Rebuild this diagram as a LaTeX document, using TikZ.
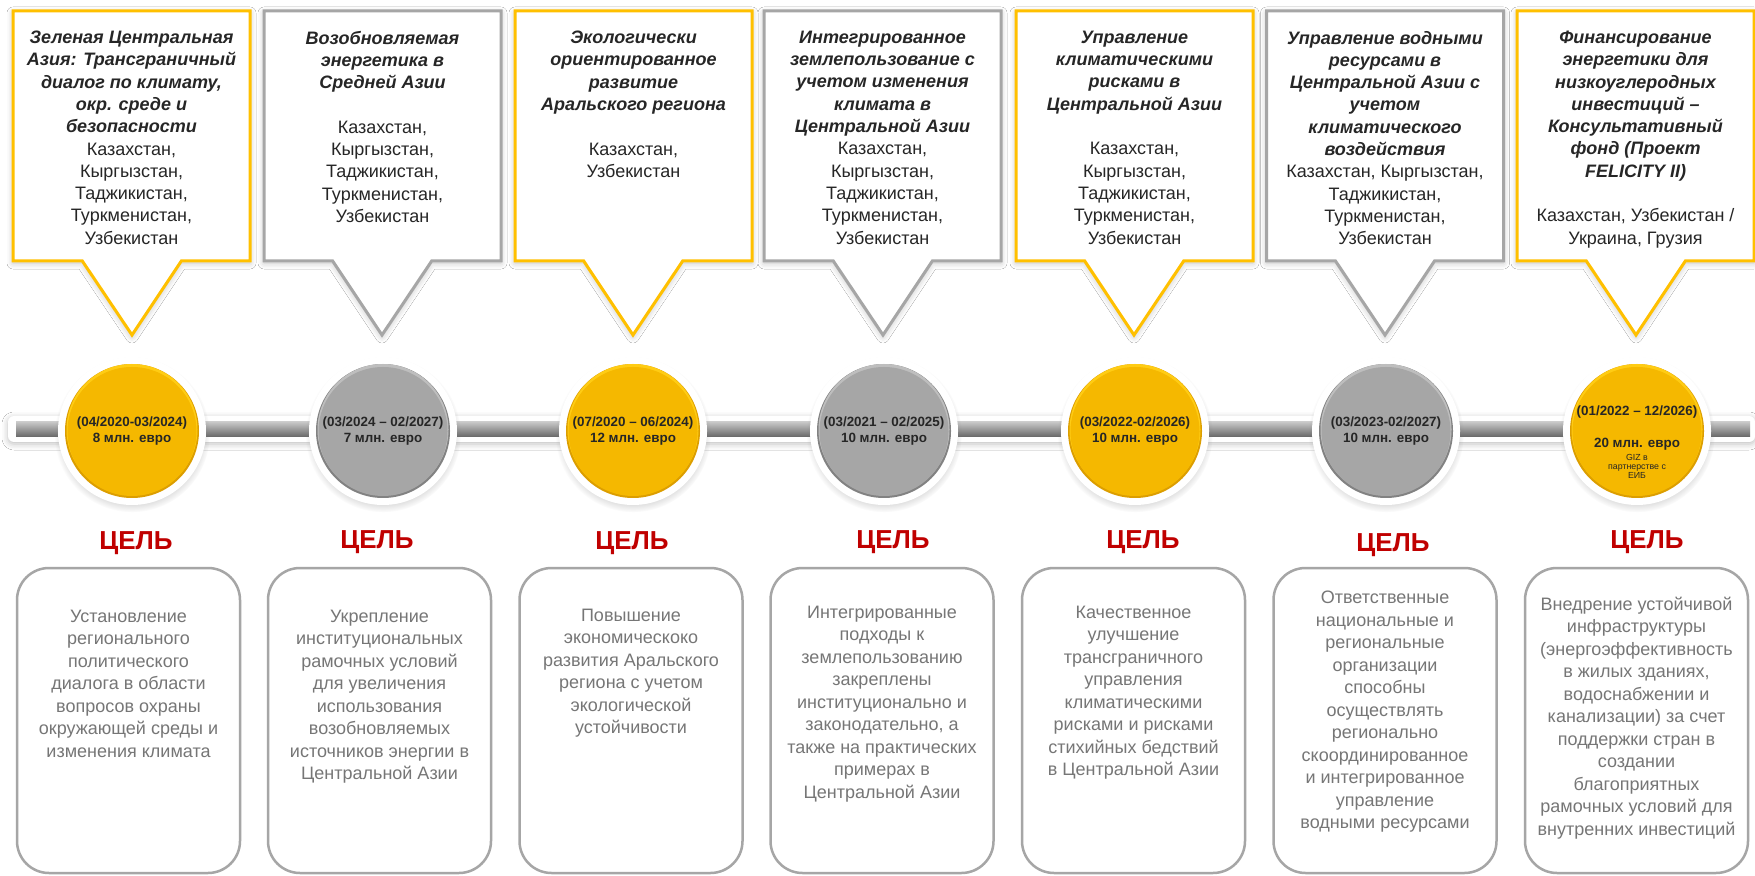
\documentclass[tikz,border=0pt]{standalone}
\usepackage{fontspec}
\setmainfont{Liberation Sans}
\usetikzlibrary{positioning}
\usetikzlibrary{shapes.callouts,shadows,shadows.blur}

\definecolor{callgold}{RGB}{255,192,0}
\definecolor{callgray}{RGB}{166,166,166}
\definecolor{discgold}{RGB}{245,184,0}
\definecolor{discgoldrim}{RGB}{220,158,0}
\definecolor{discgoldtop}{RGB}{255,204,20}
\definecolor{discgray}{RGB}{166,166,166}
\definecolor{discgrayrim}{RGB}{130,130,130}
\definecolor{discgraytop}{RGB}{190,190,190}
\definecolor{goalred}{RGB}{192,0,0}
\definecolor{goalgray}{RGB}{118,118,118}
\definecolor{boxline}{RGB}{166,166,166}
\definecolor{darktext}{RGB}{38,38,38}

\newcommand{\ptitle}[1]{{\bfseries\itshape #1}}

\begin{document}
\begin{tikzpicture}[x=0.5pt,y=-0.5pt,
  softshadow/.style={blur shadow={shadow xshift=0pt,shadow yshift=-1pt,shadow blur radius=3pt,shadow opacity=25}},
  callbase/.style={rectangle callout,fill=white,line width=1.5pt,minimum width=118.5pt,minimum height=125pt,inner sep=0pt,outer sep=0pt,callout pointer width=49.5pt,softshadow},
  goldcall/.style={callbase,draw=callgold},
  graycall/.style={callbase,draw=callgray},
  calltext/.style={align=center,inner sep=0pt,outer sep=0pt,text=darktext,font=\fontsize{9pt}{11.15pt}\selectfont},
  discbase/.style={circle,minimum size=67pt,inner sep=0pt,outer sep=0pt,align=center,text=darktext,font=\bfseries\fontsize{6.7pt}{8pt}\selectfont,
    circular drop shadow={shadow xshift=0pt,shadow yshift=-1.5pt,shadow scale=1.16,opacity=.35},preaction={draw=white,line width=7pt}},
  golddisc/.style={discbase,fill=discgoldrim,path picture={
    \fill[discgoldtop] ([yshift=.75pt]path picture bounding box.center) circle (65.5);
    \fill[discgold] ([yshift=-.25pt]path picture bounding box.center) circle (64.5);}},
  graydisc/.style={discbase,fill=discgrayrim,path picture={
    \fill[discgraytop] ([yshift=.75pt]path picture bounding box.center) circle (65.5);
    \fill[discgray] ([yshift=-.25pt]path picture bounding box.center) circle (64.5);}},
  goalbox/.style={rectangle,draw=boxline,line width=1.25pt,rounded corners=16pt,fill=white,minimum width=111.5pt,minimum height=152.5pt,inner sep=0pt,outer sep=0pt},
  goaltext/.style={align=center,inner sep=0pt,outer sep=0pt,text=goalgray,font=\fontsize{9pt}{11.25pt}\selectfont},
  goalhead/.style={inner sep=0pt,outer sep=0pt,text=goalred,font=\bfseries\fontsize{13pt}{15pt}\selectfont}]

\useasboundingbox[fill=white] (0,0) rectangle (1755,876);

% project callouts
\node[goldcall,callout absolute pointer={(132,335)}] (cb1) at (131.5,136) {};
\node[graycall,callout absolute pointer={(382,335)}] (cb2) at (382.5,136) {};
\node[goldcall,callout absolute pointer={(633,335)}] (cb3) at (633.5,136) {};
\node[graycall,callout absolute pointer={(883,335)}] (cb4) at (882.5,136) {};
\node[goldcall,callout absolute pointer={(1134,335)}] (cb5) at (1134.5,136) {};
\node[graycall,callout absolute pointer={(1385,335)}] (cb6) at (1385,136) {};
\node[goldcall,callout absolute pointer={(1636,335)}] (cb7) at (1635.5,136) {};

\node[calltext,below=10pt of cb1.north] (ct1) {\ptitle{Зеленая Центральная}\\\ptitle{Азия: Трансграничный}\\\ptitle{диалог по климату,}\\\ptitle{окр. среде и}\\\ptitle{безопасности}\\Казахстан,\\Кыргызстан,\\Таджикистан,\\Туркменистан,\\Узбекистан};
\node[calltext,below=10pt of cb2.north] (ct2) {\ptitle{Возобновляемая}\\\ptitle{энергетика в}\\\ptitle{Средней Азии}\\[11.15pt]Казахстан,\\Кыргызстан,\\Таджикистан,\\Туркменистан,\\Узбекистан};
\node[calltext,below=10pt of cb3.north] (ct3) {\ptitle{Экологически}\\\ptitle{ориентированное}\\\ptitle{развитие}\\\ptitle{Аральского региона}\\[11.15pt]Казахстан,\\Узбекистан};
\node[calltext,below=10pt of cb4.north] (ct4) {\ptitle{Интегрированное}\\\ptitle{землепользование с}\\\ptitle{учетом изменения}\\\ptitle{климата в}\\\ptitle{Центральной Азии}\\Казахстан,\\Кыргызстан,\\Таджикистан,\\Туркменистан,\\Узбекистан};
\node[calltext,below=10pt of cb5.north] (ct5) {\ptitle{Управление}\\\ptitle{климатическими}\\\ptitle{рисками в}\\\ptitle{Центральной Азии}\\[11.15pt]Казахстан,\\Кыргызстан,\\Таджикистан,\\Туркменистан,\\Узбекистан};
\node[calltext,below=10pt of cb6.north] (ct6) {\ptitle{Управление водными}\\\ptitle{ресурсами в}\\\ptitle{Центральной Азии с}\\\ptitle{учетом}\\\ptitle{климатического}\\\ptitle{воздействия}\\Казахстан, Кыргызстан,\\Таджикистан,\\Туркменистан,\\Узбекистан};
\node[calltext,below=10pt of cb7.north] (ct7) {\ptitle{Финансирование}\\\ptitle{энергетики для}\\\ptitle{низкоуглеродных}\\\ptitle{инвестиций –}\\\ptitle{Консультативный}\\\ptitle{фонд (Проект}\\\ptitle{FELICITY II)}\\[11.15pt]Казахстан, Узбекистан /\\Украина, Грузия};

% timeline bar
\fill[white,softshadow,rounded corners=3pt] (8,416) rectangle (1755,442);
\shade[top color=black!22,middle color=black!42,bottom color=black!60] (16,422) rectangle (1750,437);

% discs on the bar
\node[golddisc] (t1) at (132,431) {(04/2020-03/2024)\\8 млн. евро};
\node[graydisc] (t2) at (383,431) {(03/2024 – 02/2027)\\7 млн. евро};
\node[golddisc] (t3) at (633,431) {(07/2020 – 06/2024)\\12 млн. евро};
\node[graydisc] (t4) at (884,431) {(03/2021 – 02/2025)\\10 млн. евро};
\node[golddisc] (t5) at (1135,431) {(03/2022-02/2026)\\10 млн. евро};
\node[graydisc] (t6) at (1386,431) {(03/2023-02/2027)\\10 млн. евро};
\node[golddisc] (t7) at (1637,431) {};
\node[align=center,inner sep=0pt,text=darktext,font=\bfseries\fontsize{6.7pt}{8pt}\selectfont] (t7a) at (1637,428) {(01/2022 – 12/2026)\\[8pt]20 млн. евро};
\node[align=center,inner sep=0pt,text=darktext,font=\fontsize{4.4pt}{4.5pt}\selectfont] (t7b) at (1637,466) {GIZ в\\партнерстве с\\ЕИБ};

% goals
\node[goalhead] (h1) at (136,543) {ЦЕЛЬ};
\node[goalhead] (h2) at (377,542) {ЦЕЛЬ};
\node[goalhead] (h3) at (632,543.5) {ЦЕЛЬ};
\node[goalhead] (h4) at (893,542) {ЦЕЛЬ};
\node[goalhead] (h5) at (1143,542) {ЦЕЛЬ};
\node[goalhead] (h6) at (1393,545) {ЦЕЛЬ};
\node[goalhead] (h7) at (1647,542) {ЦЕЛЬ};

\node[goalbox] (g1) at (128.5,720.5) {};
\node[goalbox] (g2) at (379.5,720.5) {};
\node[goalbox] (g3) at (631,720.5) {};
\node[goalbox] (g4) at (882,720.5) {};
\node[goalbox] (g5) at (1133.5,720.5) {};
\node[goalbox] (g6) at (1385,720.5) {};
\node[goalbox] (g7) at (1636.5,720.5) {};

\node[goaltext,below=21pt of g1.north] (gt1) {Установление\\регионального\\политического\\диалога в области\\вопросов охраны\\окружающей среды и\\изменения климата};
\node[goaltext,below=21pt of g2.north] (gt2) {Укрепление\\институциональных\\рамочных условий\\для увеличения\\использования\\возобновляемых\\источников энергии в\\Центральной Азии};
\node[goaltext,below=20.5pt of g3.north] (gt3) {Повышение\\экономическоко\\развития Аральского\\региона с учетом\\экологической\\устойчивости};
\node[goaltext,below=19pt of g4.north] (gt4) {Интегрированные\\подходы к\\землепользованию\\закреплены\\институционально и\\законодательно, а\\также на практических\\примерах в\\Центральной Азии};
\node[goaltext,below=19pt of g5.north] (gt5) {Качественное\\улучшение\\трансграничного\\управления\\климатическими\\рисками и рисками\\стихийных бедствий\\в Центральной Азии};
\node[goaltext,below=11.5pt of g6.north] (gt6) {Ответственные\\национальные и\\региональные\\организации\\способны\\осуществлять\\регионально\\скоординированное\\и интегрированное\\управление\\водными ресурсами};
\node[goaltext,below=14.5pt of g7.north] (gt7) {Внедрение устойчивой\\инфраструктуры\\(энергоэффективность\\в жилых зданиях,\\водоснабжении и\\канализации) за счет\\поддержки стран в\\создании\\благоприятных\\рамочных условий для\\внутренних инвестиций};

\end{tikzpicture}
\end{document}
